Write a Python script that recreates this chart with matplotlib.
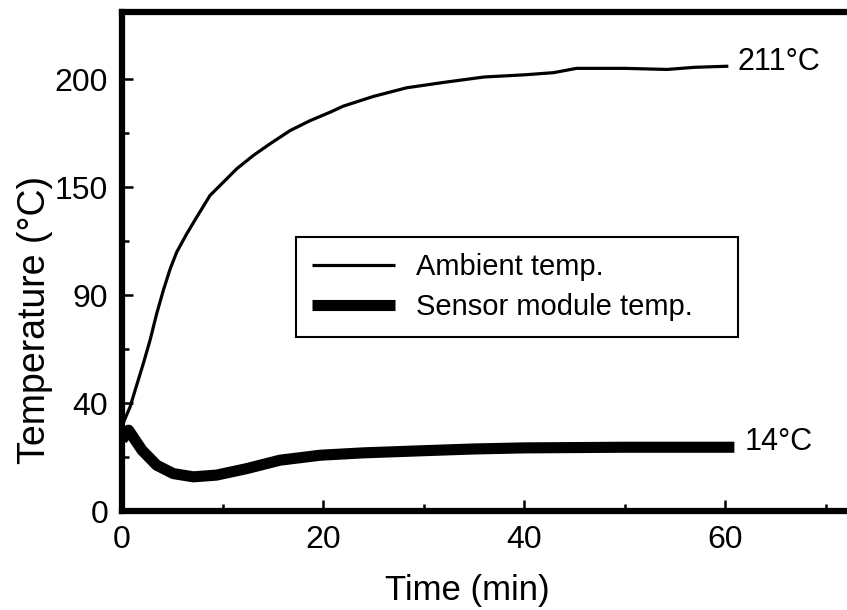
import matplotlib
matplotlib.use("Agg")
import matplotlib.pyplot as plt

plt.rcParams.update({
    "font.family": ["Liberation Sans", "DejaVu Sans"],
    "font.size": 23,
})

# ambient temperature curve (x in min, y in axis units)
amb_t = [0, 0.8, 1.46, 2.12, 2.79, 3.45, 4.11, 4.78, 5.44, 6.44, 7.43,
         8.76, 10.08, 11.41, 13.07, 14.73, 16.72, 18.71, 20.7, 22.0, 25.0,
         28.3, 32.0, 36.0, 40.0, 42.9, 45.2, 50.0, 54.2, 57.0, 60.3]
amb_v = [39.5, 48.2, 58.3, 68.3, 79.1, 91.4, 102.2, 112, 119.9, 128.4, 136.1,
         146.2, 152.3, 158.5, 164.7, 170.1, 176.2, 180.8, 184.7, 187.5, 192,
         196, 198.5, 201, 202, 203, 205, 205, 204.5, 205.5, 206]

# sensor module temperature curve
sen_t = [0, 0.66, 1.33, 2.0, 2.8, 3.45, 5.1, 7.1, 9.4, 12.4, 15.7, 19.7,
         24.0, 30.0, 35.0, 40.0, 50.0, 60.9]
sen_v = [33, 37.5, 32.8, 28.2, 24.4, 21.3, 17.4, 15.9, 16.7, 19.7, 23.6,
         25.9, 27, 28, 28.8, 29.3, 29.6, 29.6]

ytick_pos = [0, 50, 100, 150, 200]
ytick_lab = ["0", "40", "90", "150", "200"]
xtick_pos = [0, 20, 40, 60]
xtick_lab = ["0", "20", "40", "60"]
end_labels = ["211°C", "14°C"]

fig = plt.figure(figsize=(8.47, 6.10), dpi=100)
ax = fig.add_axes([0.144, 0.162, 0.856, 0.818])

ax.plot(amb_t, amb_v, color="black", lw=2.3, label="Ambient temp.",
        solid_capstyle="butt", solid_joinstyle="round")
ax.plot(sen_t, sen_v, color="black", lw=8, label="Sensor module temp.",
        solid_capstyle="butt", solid_joinstyle="round")

ax.text(amb_t[-1] + 0.9, amb_v[-1] + 2, end_labels[0], va="center",
        ha="left", fontsize=22)
ax.text(sen_t[-1] + 1.0, sen_v[-1] + 2.5, end_labels[1], va="center",
        ha="left", fontsize=22)

ax.set_xlim(0, 72.1)
ax.set_ylim(0, 231)

ax.set_xticks(xtick_pos)
ax.set_xticklabels(xtick_lab)
ax.set_xticks([10, 30, 50, 70], minor=True)
ax.set_yticks(ytick_pos)
ax.set_yticklabels(ytick_lab)
ax.set_yticks([25, 75, 125, 175], minor=True)

ax.tick_params(which="major", direction="in", length=8, width=1.8, pad=10)
ax.tick_params(which="minor", direction="in", length=5, width=1.8)

for side in ["left", "bottom", "top"]:
    ax.spines[side].set_linewidth(4.5)
ax.spines["right"].set_visible(False)

ax.set_xlabel("Time (min)", fontsize=25)
ax.xaxis.set_label_coords(0.477, -0.125)
ax.set_ylabel("Temperature (°C)", fontsize=27)
ax.yaxis.set_label_coords(-0.095, 0.383)

leg = ax.legend(loc="center left", bbox_to_anchor=(0.24, 0.351, 0.61, 0.196),
                mode="expand", borderaxespad=0, fontsize=21,
                handlelength=2.85, handletextpad=0.72, borderpad=0.55,
                labelspacing=0.4, fancybox=False, framealpha=1,
                edgecolor="black")
leg.get_frame().set_linewidth(1.5)

fig.savefig("out.png", dpi=100)
